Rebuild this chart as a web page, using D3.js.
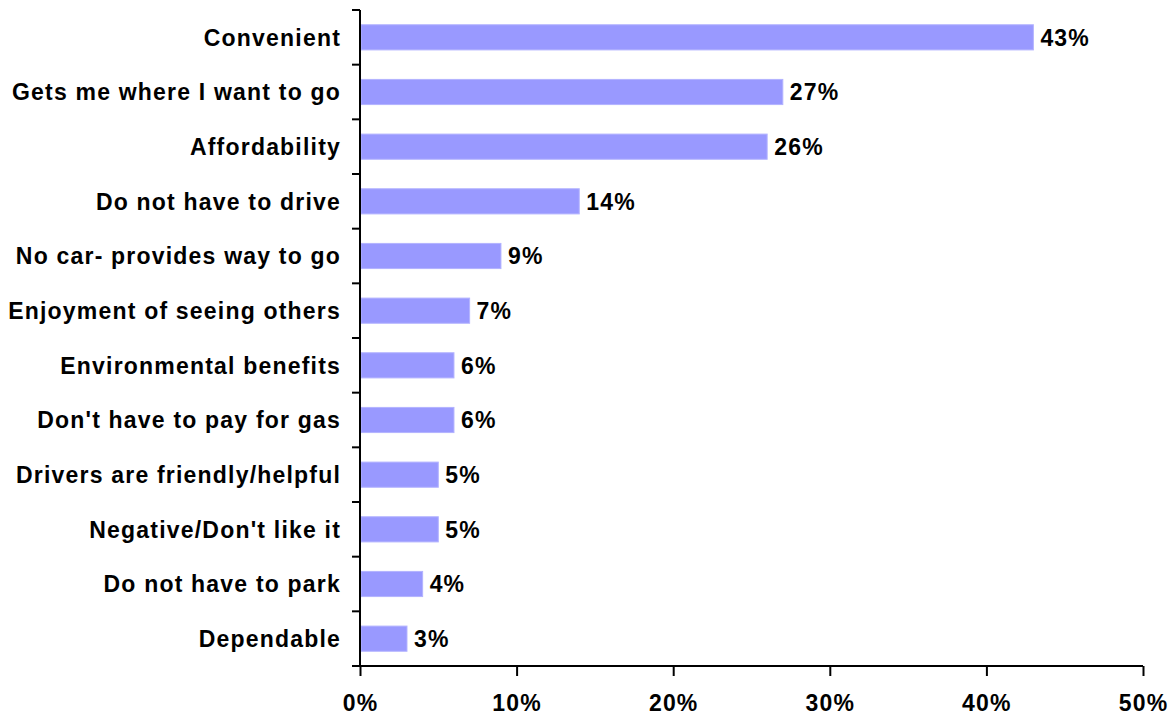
<!DOCTYPE html>
<html>
<head>
<meta charset="utf-8">
<script src="https://cdn.jsdelivr.net/npm/d3@7"></script>
<style>
  html, body { margin: 0; padding: 0; background: #fff; }
  svg text { font-family: "Liberation Sans", Arial, sans-serif; font-weight: bold; fill: #000; letter-spacing: 1.2px; }
</style>
</head>
<body>
<svg id="chart" width="1175" height="715"></svg>
<script>
const categories = [
  "Convenient",
  "Gets me where I want to go",
  "Affordability",
  "Do not have to drive",
  "No car- provides way to go",
  "Enjoyment of seeing others",
  "Environmental benefits",
  "Don't have to pay for gas",
  "Drivers are friendly/helpful",
  "Negative/Don't like it",
  "Do not have to park",
  "Dependable"
];
const values = [43, 27, 26, 14, 9, 7, 6, 6, 5, 5, 4, 3];
const xTicks = [0, 10, 20, 30, 40, 50];

const svg = d3.select("#chart");
const margin = { left: 360, right: 32, top: 10, bottom: 49 };
const W = 1175, H = 715;
const fontSize = 23;

const x = d3.scaleLinear().domain([0, 50]).range([margin.left, W - margin.right]);
const y = d3.scaleBand().domain(categories)
  .range([margin.top, H - margin.bottom])
  .paddingInner(0.54).paddingOuter(0.27);

// bars
svg.append("g").selectAll("rect")
  .data(categories)
  .join("rect")
  .attr("x", x(0) + 1)
  .attr("y", (d) => y(d))
  .attr("width", (d, i) => x(values[i]) - x(0) - 1)
  .attr("height", y.bandwidth())
  .attr("fill", "#9999ff")
  .attr("stroke", "#b3b3ff")
  .attr("stroke-width", 1);

// value labels
svg.append("g").selectAll("text")
  .data(categories)
  .join("text")
  .attr("x", (d, i) => x(values[i]) + 7)
  .attr("y", (d) => y(d) + y.bandwidth() / 2)
  .attr("dy", "0.36em")
  .attr("font-size", fontSize)
  .text((d, i) => values[i] + "%");

// category axis: ticks at band boundaries
const yAxisG = svg.append("g");
yAxisG.append("line")
  .attr("x1", x(0)).attr("x2", x(0))
  .attr("y1", margin.top).attr("y2", H - margin.bottom)
  .attr("stroke", "#000").attr("stroke-width", 2);
const bounds = d3.range(categories.length + 1).map(i => margin.top + i * y.step());
yAxisG.selectAll("line.tick")
  .data(bounds)
  .join("line")
  .attr("class", "tick")
  .attr("x1", x(0) - 8).attr("x2", x(0))
  .attr("y1", d => d).attr("y2", d => d)
  .attr("stroke", "#000").attr("stroke-width", 2);
yAxisG.selectAll("text")
  .data(categories)
  .join("text")
  .attr("x", x(0) - 19)
  .attr("y", d => y(d) + y.bandwidth() / 2)
  .attr("dy", "0.36em")
  .attr("text-anchor", "end")
  .attr("font-size", fontSize)
  .text(d => d);

// value axis
const xAxis = d3.axisBottom(x)
  .tickValues(xTicks)
  .tickFormat(d => d + "%")
  .tickSize(10)
  .tickPadding(19);
const xg = svg.append("g")
  .attr("transform", `translate(0,${H - margin.bottom})`)
  .call(xAxis);
xg.select(".domain").attr("stroke", "#000").attr("stroke-width", 2)
  .attr("d", `M${x(0)},0H${x(50)}`);
xg.selectAll(".tick line").attr("stroke", "#000").attr("stroke-width", 2);
xg.selectAll(".tick text")
  .attr("font-size", fontSize)
  .attr("font-family", "Liberation Sans, Arial, sans-serif")
  .attr("font-weight", "bold")
  .attr("fill", "#000");
</script>
</body>
</html>
